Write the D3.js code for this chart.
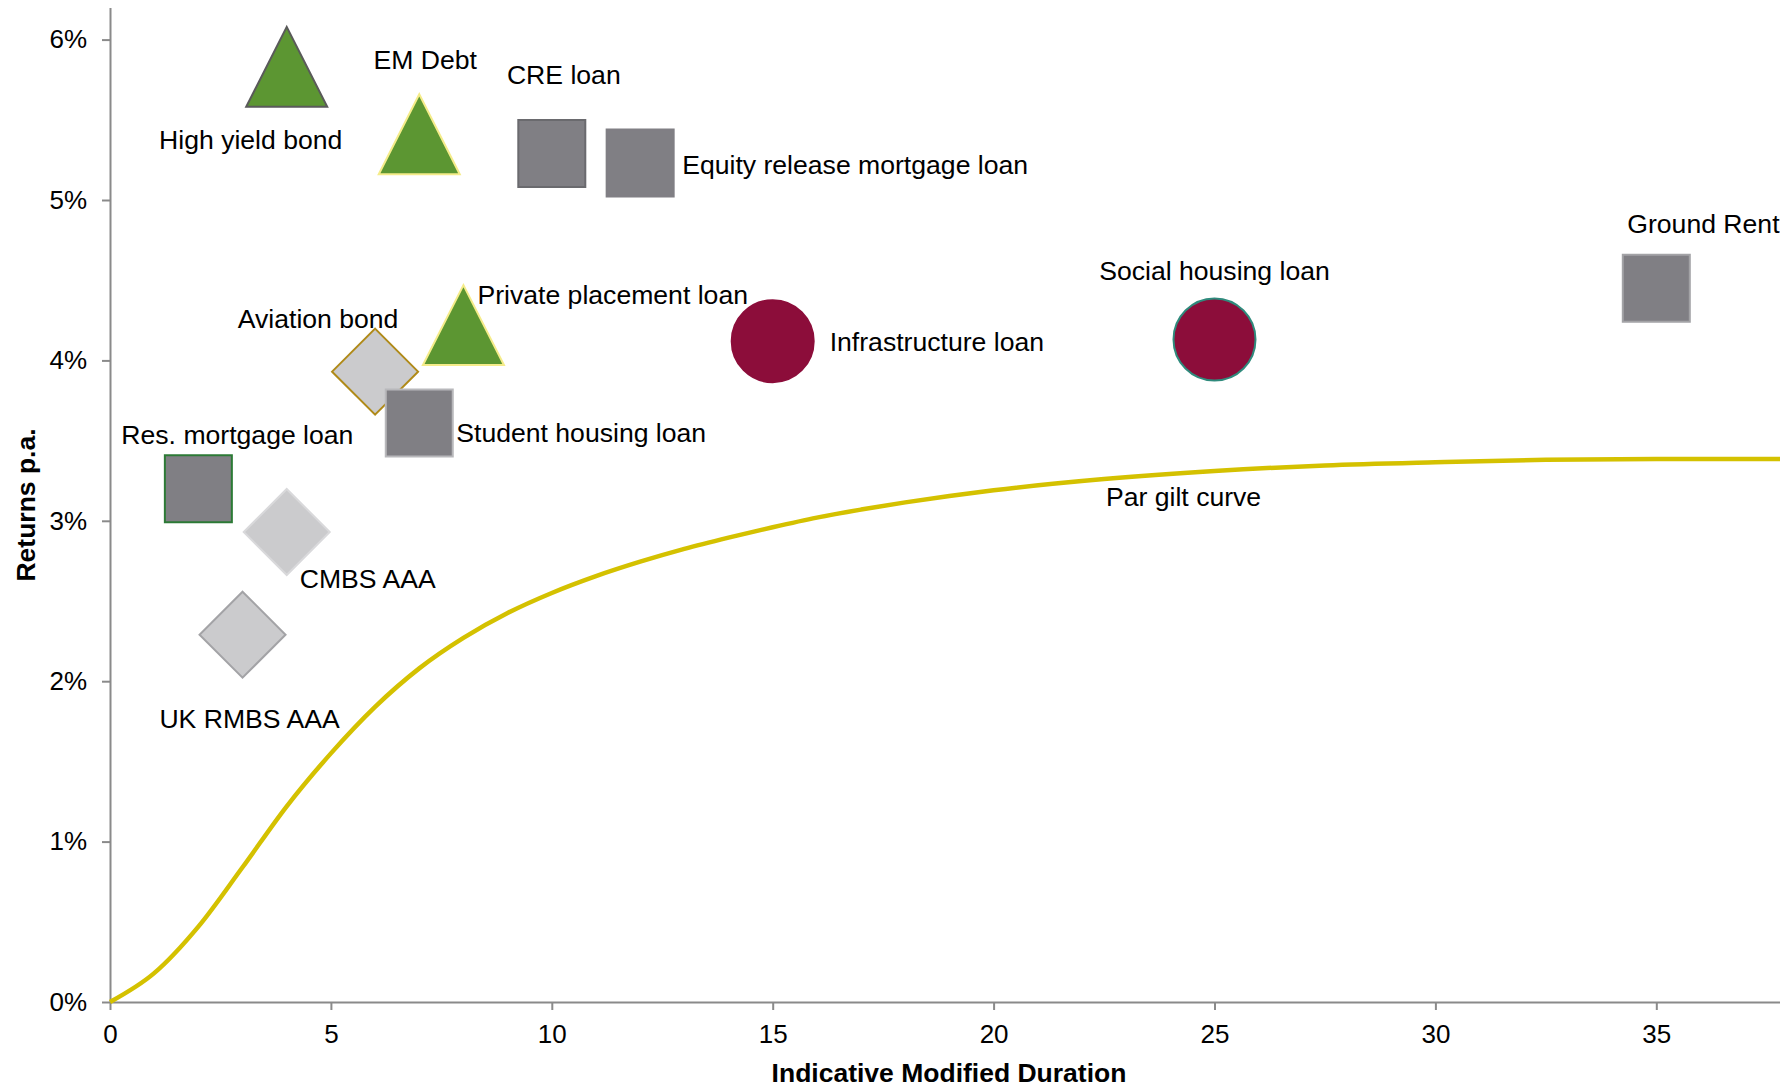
<!DOCTYPE html>
<html>
<head>
<meta charset="utf-8">
<script src="https://cdn.jsdelivr.net/npm/d3@7"></script>
<style>
  html, body { margin: 0; padding: 0; background: #fff; }
  svg { display: block; font-family: "Liberation Sans", Arial, sans-serif; }
</style>
</head>
<body>
<svg id="chart" width="1780" height="1089"></svg>
<script>
// ---------- DATA ----------
const assetNames = [
  "High yield bond", "EM Debt", "CRE loan", "Equity release mortgage loan",
  "Ground Rent", "Social housing loan", "Infrastructure loan",
  "Private placement loan", "Aviation bond", "Student housing loan",
  "Res. mortgage loan", "CMBS AAA", "UK RMBS AAA"
];
const durations = [4, 7, 10, 12, 35, 25, 15, 8, 6, 7, 2, 4, 3];
const returns   = [5.83, 5.41, 5.29, 5.23, 4.45, 4.13, 4.12, 4.22, 3.93, 3.61, 3.20, 2.93, 2.29];
const assetTypes = [
  "triangle", "triangle", "square", "square", "square", "circle", "circle",
  "triangle", "diamond", "square", "square", "diamond", "diamond"
];

const gilt_durations = [0, 1, 2, 3, 4, 5, 6, 7, 8, 9, 10, 11, 12, 13, 14, 15, 16, 17, 18, 19, 20, 22.5, 25, 27.5, 30, 32.5, 35, 37.8];
const gilt_yields    = [0, 0.18, 0.47, 0.84, 1.22, 1.55, 1.84, 2.08, 2.27, 2.425, 2.55, 2.655, 2.745, 2.825, 2.895, 2.96,
                        3.02, 3.07, 3.115, 3.155, 3.19, 3.26, 3.31, 3.345, 3.365, 3.38, 3.385, 3.385];
const giltLabel = "Par gilt curve";

const xTicks = [0, 5, 10, 15, 20, 25, 30, 35];
const yTicks = [0, 1, 2, 3, 4, 5, 6];
const xTitle = "Indicative Modified Duration";
const yTitle = "Returns p.a.";

// ---------- STYLE / LAYOUT ----------
const fills = { triangle: "#5c9632", square: "#807f84", circle: "#8c0d3a", diamond: "#cbcbcd" };
const strokes = ["#5a5a5a", "#f5ec8a", "#6a6a6e", "#807f84", "#a3a3a6", "#2f8a7c", "#8c0d3a",
                 "#f5ec8a", "#b08a18", "#b8b8bb", "#2c7a36", "#d9d9db", "#a3a3a6"];
// label offsets (px from marker centre) and anchors
const labelOffsets = [
  [-36, 73, "middle"], [6, -74, "middle"], [12, -78, "middle"], [42, 2, "start"],
  [-29, -64, "start"], [0, -69, "middle"], [57, 1, "start"], [14, -30, "start"],
  [-57, -53, "middle"], [37, 10, "start"], [39, -54, "middle"], [81, 47, "middle"],
  [7, 84, "middle"]
];
const markerSize = { triangle: [81, 80], square: [67, 67], circle: [82, 82], diamond: [86, 86] };

const W = 1780, H = 1089;
const margin = { left: 110, top: 8, right: 0, bottom: 87 };
const svg = d3.select("#chart");

const x = d3.scaleLinear().domain([0, 37.8]).range([margin.left, W]);
const y = d3.scaleLinear().domain([0, 6.2]).range([1002, 1002 - 6.2 * 160.4]);

// ---------- AXES ----------
const axisColor = "#8a8a8a";
const gx = svg.append("g").attr("transform", `translate(0,${y(0)})`)
  .call(d3.axisBottom(x).tickValues(xTicks).tickSize(8).tickPadding(15).tickSizeOuter(0));
const gy = svg.append("g").attr("transform", `translate(${x(0)},0)`)
  .call(d3.axisLeft(y).tickValues(yTicks).tickFormat(d => d + "%").tickSize(8).tickPadding(15).tickSizeOuter(0));
[gx, gy].forEach(g => {
  g.select(".domain").attr("stroke", axisColor).attr("stroke-width", 2);
  g.selectAll(".tick line").attr("stroke", axisColor).attr("stroke-width", 2);
  g.selectAll(".tick text").attr("fill", "#000").style("font-size", "26px")
    .style("font-family", "'Liberation Sans', Arial, sans-serif");
});

svg.append("text").attr("x", 949).attr("y", 1082).attr("text-anchor", "middle")
  .style("font-size", "26.5px").style("font-weight", "bold").text(xTitle);
svg.append("text").attr("transform", "translate(35,505) rotate(-90)").attr("text-anchor", "middle")
  .style("font-size", "26.5px").style("font-weight", "bold").text(yTitle);

// ---------- GILT CURVE ----------
const giltData = gilt_durations.map((d, i) => [d, gilt_yields[i]]);
svg.append("path").datum(giltData)
  .attr("fill", "none").attr("stroke", "#d4c100").attr("stroke-width", 4.5)
  .attr("stroke-linejoin", "round")
  .attr("d", d3.line().x(d => x(d[0])).y(d => y(d[1])).curve(d3.curveMonotoneX));
svg.append("text").attr("x", x(24.3)).attr("y", y(3.15)).attr("text-anchor", "middle")
  .attr("dominant-baseline", "central").style("font-size", "26.6px").text(giltLabel);

// ---------- MARKERS ----------
function shapePath(type) {
  const [w, h] = markerSize[type];
  if (type === "triangle") return `M0,${-h/2}L${w/2},${h/2}L${-w/2},${h/2}Z`;
  if (type === "square") return `M${-w/2},${-h/2}H${w/2}V${h/2}H${-w/2}Z`;
  if (type === "diamond") return `M0,${-h/2}L${w/2},0L0,${h/2}L${-w/2},0Z`;
  return d3.symbol().type(d3.symbolCircle).size(Math.PI * (w/2) * (w/2))();
}
const pts = assetNames.map((n, i) => ({ name: n, dx: durations[i], r: returns[i], type: assetTypes[i], i }));
const g = svg.append("g");
g.selectAll("path.m").data(pts).join("path").attr("class", "m")
  .attr("transform", d => `translate(${x(d.dx)},${y(d.r)})`)
  .attr("d", d => shapePath(d.type))
  .attr("fill", d => fills[d.type])
  .attr("stroke", d => strokes[d.i]).attr("stroke-width", 2);

g.selectAll("text.l").data(pts).join("text").attr("class", "l")
  .attr("x", d => x(d.dx) + labelOffsets[d.i][0])
  .attr("y", d => y(d.r) + labelOffsets[d.i][1])
  .attr("text-anchor", d => labelOffsets[d.i][2])
  .attr("dominant-baseline", "central")
  .style("font-size", "26.6px").attr("fill", "#000")
  .text(d => d.name);
</script>
</body>
</html>
